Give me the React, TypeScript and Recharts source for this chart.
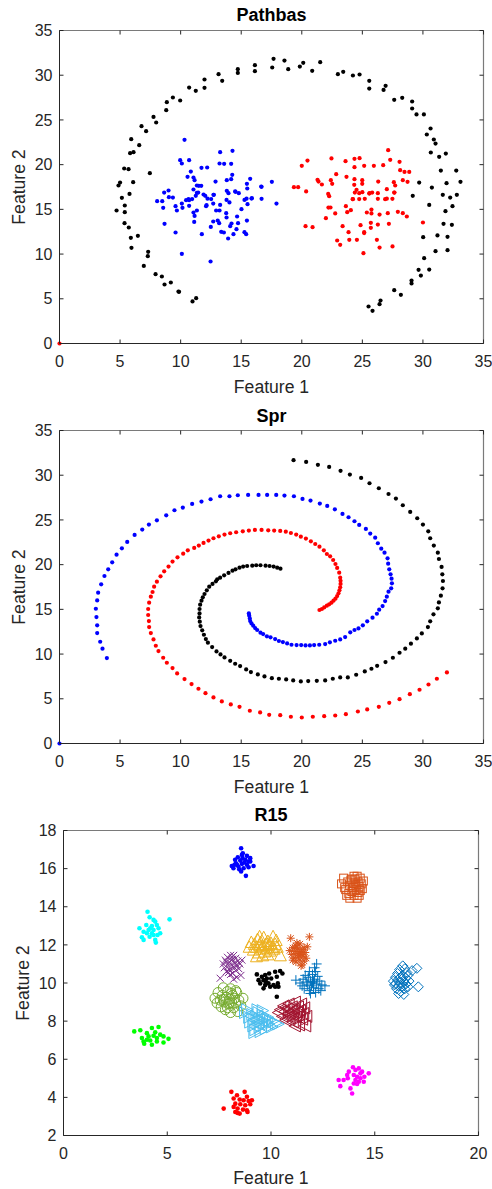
import React from "react";
import { ScatterChart, Scatter, XAxis, YAxis, ReferenceLine } from "recharts";

const AXIS = "#262626";
const FONT = "'Liberation Sans', Arial, sans-serif";

// ---- Pathbas ----
const pathBlack: [number, number][] = [
  [4.87, 17.67], [5.0, 18.0], [5.34, 19.57], [5.7, 19.49], [6.08, 18.04], [5.83, 21.28], [6.11, 21.39],
  [5.92, 22.85], [6.58, 22.18], [6.77, 24.3], [7.15, 23.74], [7.76, 25.34], [7.98, 24.71], [7.46, 19.05],
  [8.81, 26.09], [8.86, 26.98], [9.36, 27.51], [9.96, 27.17], [10.7, 28.62], [11.25, 28.25], [11.97, 28.59],
  [11.97, 29.52], [13.13, 30.12], [13.43, 29.37], [14.72, 30.67], [14.72, 30.26], [16.13, 31.12], [16.13, 30.45],
  [17.67, 31.83], [17.56, 30.86], [18.57, 31.64], [18.88, 30.67], [19.84, 30.97], [20.12, 31.38], [20.86, 30.49],
  [21.52, 31.46], [22.98, 30.12], [23.42, 30.38], [24.22, 29.97], [24.77, 30.08], [25.57, 29.37], [25.57, 28.51],
  [26.75, 28.36], [26.92, 28.81], [27.63, 27.25], [28.29, 27.47], [29.11, 27.06], [29.11, 26.28], [29.47, 25.61],
  [30.08, 25.61], [30.32, 23.37], [30.63, 24.04], [30.9, 22.81], [31.04, 22.36], [30.65, 21.36], [31.34, 20.87],
  [31.89, 21.24], [31.48, 19.34], [32.75, 19.34], [33.1, 18.08], [31.95, 17.93], [29.69, 18.0], [30.74, 17.44],
  [29.16, 16.51], [31.64, 16.62], [32.25, 16.32], [32.8, 16.62], [30.52, 15.5], [31.86, 14.8], [32.44, 15.36],
  [31.7, 13.38], [32.39, 13.27], [30.02, 11.89], [32.03, 11.93], [31.2, 12.08], [30.1, 9.54], [31.04, 10.32],
  [32.03, 10.44], [29.64, 8.24], [30.52, 8.27], [29.83, 7.6], [29.06, 7.04], [29.06, 6.71], [27.63, 5.96],
  [28.18, 5.44], [26.5, 4.81], [26.42, 4.4], [25.51, 4.14], [25.84, 3.65],
  [5.15, 16.29], [5.78, 16.73], [5.39, 15.43], [5.39, 14.69], [4.71, 14.87], [5.37, 13.45], [5.72, 12.97],
  [5.89, 11.82], [5.94, 10.7], [6.47, 12.04], [7.32, 10.25], [7.29, 9.77], [6.96, 8.68], [7.93, 7.75],
  [8.45, 7.49], [8.67, 6.6], [9.19, 6.82], [9.82, 5.81], [9.87, 5.78], [10.98, 4.7], [11.28, 5.07],
];
const pathBlue: [number, number][] = [
  [10.32, 22.77], [9.96, 20.5], [10.1, 20.13], [10.7, 20.5], [10.84, 19.23], [11.72, 19.64], [12.19, 19.68],
  [10.57, 18.64], [11.06, 18.56], [11.15, 18.26], [11.06, 17.22], [11.34, 17.67], [8.64, 16.88], [9.0, 17.11],
  [11.45, 16.88], [13.26, 21.39], [13.21, 20.13], [13.59, 20.09], [14.28, 21.54], [14.17, 20.09], [14.26, 18.86],
  [13.81, 18.26], [14.17, 18.37], [12.88, 18.11], [15.74, 18.41], [15.47, 17.85], [15.5, 17.33], [14.5, 17.0],
  [14.8, 16.81], [13.81, 17.07], [13.95, 16.81], [16.68, 17.52], [17.53, 18.08], [11.89, 16.66], [12.71, 16.62],
  [9.03, 16.36], [9.36, 16.32], [10.65, 16.15], [10.95, 16.15], [12.22, 16.2], [12.52, 16.15], [15.44, 16.2],
  [15.88, 16.25], [16.68, 16.18], [8.06, 15.91], [8.48, 15.91], [8.56, 15.17], [8.67, 13.38], [9.58, 15.36],
  [9.69, 14.87], [9.58, 12.41], [10.1, 15.65], [10.15, 15.17], [10.1, 10.03], [10.45, 16.03], [10.7, 16.03],
  [10.7, 15.39], [11.06, 14.65], [11.15, 14.27], [11.12, 13.6], [11.34, 14.87], [11.25, 16.51], [11.34, 16.85],
  [11.5, 17.63], [11.7, 17.63], [11.75, 12.22], [12.03, 16.51], [12.14, 15.47], [12.1, 15.36], [12.49, 13.04],
  [12.47, 9.17], [12.74, 16.62], [12.69, 15.65], [12.69, 13.64], [12.93, 14.87], [13.06, 13.75], [13.18, 13.45],
  [13.21, 14.87], [13.26, 15.5], [13.35, 12.49], [13.57, 12.41], [13.79, 16.06], [13.76, 14.57], [13.79, 14.09],
  [13.92, 11.74], [14.09, 13.12], [14.2, 13.42], [14.03, 15.77], [14.53, 16.96], [14.36, 12.22], [14.61, 12.78],
  [14.66, 14.2], [14.74, 13.45], [15.02, 15.02], [15.27, 12.45], [15.41, 12.22], [15.27, 16.06], [15.52, 15.58],
  [15.47, 13.75], [15.85, 16.21], [16.65, 17.55], [17.91, 15.65],
];
const pathRed: [number, number][] = [
  [0, 0],
  [20.0, 19.87], [20.47, 20.46], [22.45, 20.69], [23.61, 20.39], [24.35, 20.65], [24.35, 19.72], [24.77, 20.72],
  [25.15, 19.87], [25.95, 19.87], [26.72, 19.94], [27.13, 21.62], [27.3, 20.54], [28.07, 20.31], [28.12, 19.38],
  [28.48, 19.19], [28.87, 19.19], [22.84, 18.93], [23.69, 18.64], [21.3, 18.3], [21.38, 18.11], [21.66, 17.78],
  [22.4, 18.26], [22.51, 17.85], [19.35, 17.48], [19.7, 17.48], [20.36, 17.0], [22.18, 16.73], [22.26, 16.47],
  [24.35, 18.37], [24.33, 17.74], [24.99, 18.26], [24.99, 17.85], [24.52, 17.18], [24.38, 16.88], [24.74, 16.81],
  [25.0, 16.92], [25.59, 16.81], [26.28, 16.81], [26.31, 18.11], [27.02, 17.26], [27.6, 18.04], [27.71, 17.67],
  [27.65, 16.88], [28.34, 18.26], [24.2, 16.15], [24.74, 16.15], [27.02, 16.2], [27.48, 16.18],
  [20.31, 13.12], [20.89, 13.01], [21.99, 14.01], [22.37, 15.21], [22.76, 14.54], [22.92, 11.52],
  [23.17, 11.03], [23.37, 13.12], [23.64, 15.36], [23.75, 14.69], [23.86, 12.45], [23.92, 11.59], [24.05, 14.91],
  [24.22, 16.14], [24.55, 11.59], [24.85, 13.23], [25.15, 12.45], [25.09, 10.1], [25.2, 16.18], [25.37, 14.65],
  [25.57, 16.77], [25.81, 16.88], [25.7, 13.49], [25.7, 12.93], [25.75, 14.98], [25.75, 14.54], [26.2, 11.59],
  [26.28, 13.3], [26.42, 14.42], [26.42, 10.73], [26.28, 16.18], [26.88, 16.14], [27.1, 14.57], [27.19, 13.38],
  [27.49, 10.85], [27.63, 16.88], [27.93, 14.72], [28.34, 14.57], [28.67, 14.2], [28.73, 18.08], [30.0, 13.53],
  [25.15, 12.35], [22.2, 15.2],
];

// ---- Spr ----
const sprBlack: [number, number][] = [
  [19.32, 31.68], [20.36, 31.49], [21.33, 31.16], [22.26, 30.93], [23.2, 30.49], [23.97, 30.07], [24.9, 29.7],
  [25.59, 29.1], [26.36, 28.54], [27.16, 27.9], [27.77, 27.39], [28.34, 26.64], [28.95, 25.9], [29.53, 25.19],
  [30.0, 24.48], [30.44, 23.73], [30.6, 22.95], [30.9, 22.13], [31.23, 21.34], [31.32, 20.63], [31.54, 19.74],
  [31.6, 18.92], [31.65, 18.17], [31.62, 17.35], [31.48, 16.53], [31.32, 15.78], [31.23, 15.11], [30.87, 14.44],
  [30.6, 13.66], [30.41, 13.02], [29.91, 12.31], [29.5, 11.75], [29.01, 11.16], [28.54, 10.6], [28.07, 10.15],
  [27.52, 9.59], [26.91, 9.1], [26.22, 8.69], [25.75, 8.36], [25.2, 8.06], [24.49, 7.69], [23.8, 7.39],
  [23.17, 7.39], [22.56, 7.24], [21.93, 7.05], [21.24, 7.01], [20.53, 6.98], [19.92, 6.94], [19.29, 7.05],
  [18.71, 7.16], [18.11, 7.24], [17.53, 7.31], [16.92, 7.5], [16.37, 7.72], [15.8, 7.99], [15.41, 8.28],
  [14.91, 8.66], [14.5, 8.92], [14.09, 9.25], [13.62, 9.63], [13.29, 9.96], [12.96, 10.3], [12.6, 10.78],
  [12.25, 11.27], [12.08, 11.68], [11.92, 12.16], [11.78, 12.65], [11.64, 13.13], [11.58, 13.62], [11.53, 14.1],
  [11.56, 14.55], [11.56, 15.04], [11.61, 15.52], [11.72, 15.97], [11.83, 16.34], [11.97, 16.72], [12.16, 17.13],
  [12.36, 17.54], [12.63, 17.84], [12.91, 18.13], [13.02, 18.36], [13.26, 18.54], [13.59, 18.81], [13.95, 19.07],
  [14.28, 19.33], [14.53, 19.48], [14.86, 19.66], [15.16, 19.78], [15.49, 19.85], [15.91, 19.89], [16.24, 19.93],
  [16.59, 19.93], [17.01, 19.89], [17.34, 19.85], [17.67, 19.78], [17.97, 19.66], [18.24, 19.55],
];
const sprBlue: [number, number][] = [
  [0, 0],
  [3.91, 9.55], [3.55, 10.6], [3.36, 11.38], [3.11, 12.35], [3.11, 13.21], [3.05, 14.14], [3.0, 15.07],
  [3.11, 16.0], [3.19, 16.87], [3.44, 17.8], [3.71, 18.73], [4.02, 19.48], [4.35, 20.26], [4.71, 21.12],
  [5.15, 21.83], [5.59, 22.54], [6.2, 23.32], [6.83, 23.92], [7.38, 24.48], [8.04, 24.96], [8.81, 25.52],
  [9.49, 26.08], [10.18, 26.38], [10.95, 26.79], [11.72, 27.05], [12.47, 27.31], [13.26, 27.65], [14.03, 27.65],
  [14.72, 27.76], [15.57, 27.8], [16.43, 27.8], [17.14, 27.8], [17.89, 27.8], [18.57, 27.72], [19.35, 27.65],
  [20.06, 27.35], [20.72, 27.16], [21.49, 26.83], [22.1, 26.57], [22.73, 26.19], [23.36, 25.67], [23.86, 25.3],
  [24.35, 24.85], [24.74, 24.44], [25.29, 23.99], [25.65, 23.47], [26.06, 23.02], [26.28, 22.39], [26.56, 21.79],
  [26.83, 21.34], [27.08, 20.71], [27.13, 20.11], [27.22, 19.48], [27.33, 18.92], [27.41, 18.43], [27.44, 17.91],
  [27.38, 17.35], [27.16, 16.98], [27.02, 16.42], [26.88, 15.93], [26.67, 15.37], [26.39, 14.96], [26.2, 14.51],
  [25.84, 14.07], [25.4, 13.66], [25.04, 13.21], [24.68, 12.87], [24.35, 12.69], [24.0, 12.43], [23.58, 11.9],
  [23.17, 11.64], [22.76, 11.49], [22.32, 11.31], [21.93, 11.12], [21.44, 11.04], [21.02, 11.01], [20.67, 10.97],
  [20.31, 10.97], [19.95, 11.01], [19.57, 11.01], [19.15, 11.04], [18.79, 11.19], [18.44, 11.34], [18.11, 11.46],
  [17.8, 11.68], [17.42, 11.87], [17.12, 11.98], [16.81, 12.24], [16.59, 12.39], [16.32, 12.69], [16.15, 12.91],
  [15.99, 13.17], [15.85, 13.43], [15.74, 13.69], [15.71, 13.99], [15.66, 14.29], [15.63, 14.55],
];
const sprRed: [number, number][] = [
  [21.46, 14.93], [21.66, 15.04], [21.85, 15.22], [22.07, 15.41], [22.26, 15.56], [22.45, 15.75], [22.62, 15.97],
  [22.78, 16.19], [22.92, 16.49], [23.03, 16.79], [23.11, 17.13], [23.17, 17.46], [23.2, 17.84], [23.2, 18.2],
  [23.17, 18.54], [23.09, 19.1], [22.92, 19.63], [22.78, 20.07], [22.59, 20.52], [22.34, 20.93], [22.07, 21.19],
  [21.82, 21.6], [21.46, 22.01], [21.11, 22.31], [20.75, 22.61], [20.34, 22.91], [19.92, 23.13], [19.54, 23.36],
  [19.1, 23.54], [18.68, 23.69], [18.22, 23.77], [17.72, 23.81], [17.23, 23.84], [16.68, 23.88], [16.13, 23.88],
  [15.63, 23.81], [15.13, 23.73], [14.58, 23.62], [14.09, 23.51], [13.62, 23.36], [13.15, 23.17], [12.71, 22.95],
  [12.3, 22.69], [11.89, 22.43], [11.5, 22.13], [11.12, 21.87], [10.59, 21.6], [10.21, 21.23], [9.74, 20.82],
  [9.33, 20.34], [9.0, 19.78], [8.64, 19.25], [8.34, 18.69], [8.04, 18.1], [7.81, 17.54], [7.68, 16.94],
  [7.54, 16.42], [7.4, 15.75], [7.32, 15.04], [7.32, 14.37], [7.38, 13.69], [7.4, 13.02], [7.54, 12.35],
  [7.76, 11.64], [7.95, 10.93], [8.17, 10.34], [8.56, 9.59], [8.86, 9.03], [9.33, 8.43], [9.71, 7.84],
  [10.32, 7.2], [10.9, 6.64], [11.47, 6.12], [12.05, 5.63], [12.71, 5.15], [13.4, 4.7], [14.14, 4.37],
  [14.86, 4.1], [15.71, 3.66], [16.56, 3.47], [17.31, 3.21], [18.22, 3.17], [19.1, 2.99], [20.0, 2.91],
  [20.91, 2.99], [21.85, 3.06], [22.76, 3.13], [23.64, 3.28], [24.63, 3.58], [25.4, 3.81], [26.36, 4.1],
  [27.22, 4.55], [28.07, 4.96], [28.92, 5.52], [29.72, 6.01], [30.46, 6.6], [31.15, 7.24], [31.98, 7.95],
];

// ---- R15 ----
const r15Blue: [number, number][] = [
  [8.56, 17.07], [8.64, 16.81], [8.6, 16.72], [8.4, 16.6], [8.84, 16.67], [9.0, 16.55], [8.27, 16.46], [8.52, 16.42],
  [8.76, 16.46], [8.92, 16.37], [8.11, 16.14], [8.36, 16.2], [8.6, 16.25], [8.84, 16.2], [9.16, 16.14], [8.19, 16.02],
  [8.47, 15.97], [8.68, 16.02], [8.92, 16.07], [8.56, 15.85], [8.79, 15.62], [8.31, 16.28], [8.72, 16.32],
  [8.43, 16.11], [9.0, 16.37], [8.24, 16.2], [8.63, 16.55],
];
const r15Cyan: [number, number][] = [
  [4.05, 13.74], [4.15, 13.45], [4.34, 13.31], [4.42, 13.22], [5.11, 13.34], [3.99, 13.04], [4.26, 12.99], [4.5, 13.04],
  [3.66, 12.87], [3.86, 12.69], [4.1, 12.78], [4.26, 12.61], [4.58, 12.87], [4.02, 12.61], [4.34, 12.52], [4.53, 12.52],
  [4.66, 12.61], [3.78, 12.4], [3.86, 12.26], [4.42, 12.26], [4.45, 12.12], [4.18, 12.87], [4.34, 12.78], [4.15, 12.43],
];
const r15Green: [number, number][] = [
  [3.41, 7.46], [3.7, 7.52], [4.26, 7.64], [4.58, 7.69], [4.02, 7.37], [3.78, 7.11], [4.1, 7.2], [4.34, 7.23],
  [4.5, 7.11], [4.82, 7.2], [5.06, 7.07], [4.82, 6.88], [3.89, 6.81], [4.26, 6.76], [4.5, 6.93], [4.02, 7.02],
  [4.66, 7.29], [4.42, 7.41], [4.18, 6.98], [3.86, 6.93],
];
const r15Red: [number, number][] = [
  [8.09, 4.29], [8.73, 4.29], [8.36, 4.11], [8.84, 4.03], [8.2, 3.94], [8.49, 3.89], [8.68, 3.85], [8.92, 3.81],
  [9.08, 3.85], [7.72, 3.41], [8.28, 3.67], [8.52, 3.64], [8.76, 3.59], [9.0, 3.64], [8.2, 3.5], [8.39, 3.41],
  [8.65, 3.36], [8.84, 3.32], [8.28, 3.23], [8.49, 3.15], [8.87, 3.23], [8.39, 3.18],
];
const r15Magenta: [number, number][] = [
  [13.26, 4.91], [13.34, 4.59], [13.5, 4.91], [13.67, 5.17], [13.7, 5.0], [13.95, 5.58], [14.07, 5.44], [14.23, 5.52],
  [13.99, 5.17], [14.15, 5.08], [14.31, 5.26], [14.39, 5.35], [14.71, 5.26], [13.83, 4.47], [13.91, 4.2], [14.07, 4.91],
  [14.23, 4.82], [14.47, 4.82], [14.31, 5.0], [13.99, 4.73], [14.15, 4.7], [13.75, 5.35], [14.5, 5.08],
];
const r15Black: [number, number][] = [
  [9.32, 10.45], [9.56, 10.33], [9.72, 10.42], [9.91, 10.5], [10.2, 10.59], [10.44, 10.63], [10.55, 10.5], [9.4, 10.15],
  [9.64, 10.15], [9.8, 10.24], [10.01, 10.24], [10.28, 10.33], [9.48, 9.98], [9.72, 9.89], [9.88, 9.98], [10.12, 9.89],
  [10.33, 9.98], [10.2, 9.8], [10.36, 9.8], [9.64, 9.72], [9.96, 9.8], [10.28, 9.28], [9.75, 10.07],
];
const r15Squares: [number, number][] = [
  [13.4, 15.2], [13.5, 15.5], [13.6, 14.9], [13.7, 15.3], [13.75, 14.7], [13.8, 15.1], [13.85, 15.4], [13.9, 14.8],
  [13.95, 15.0], [14.0, 15.25], [14.0, 14.6], [14.05, 15.45], [14.1, 14.9], [14.1, 15.1], [14.15, 14.45], [14.2, 15.3],
  [14.2, 14.75], [14.25, 15.05], [14.3, 15.5], [14.3, 14.85], [14.35, 15.2], [14.4, 14.95], [14.45, 15.35],
  [13.65, 14.6], [13.55, 15.0], [14.0, 15.6], [14.15, 15.6], [13.9, 15.45], [14.25, 14.6], [13.8, 14.45],
];
const r15TriUp: [number, number][] = [
  [8.95, 11.85], [9.05, 12.1], [9.15, 11.7], [9.2, 12.0], [9.3, 11.85], [9.35, 12.25], [9.4, 11.55], [9.45, 11.95],
  [9.5, 12.1], [9.55, 11.75], [9.6, 11.9], [9.65, 12.35], [9.7, 11.6], [9.75, 12.0], [9.8, 11.8], [9.85, 12.15],
  [9.9, 11.95], [9.95, 11.65], [10.0, 12.05], [10.05, 11.85], [10.1, 12.4], [10.15, 11.75], [10.2, 12.0],
  [10.3, 11.85], [10.45, 11.4], [9.3, 11.35], [9.6, 11.4], [9.45, 12.4], [9.85, 11.45], [10.25, 12.2],
];
const r15Star: [number, number][] = [
  [10.95, 12.35], [11.85, 12.42], [10.9, 11.7], [11.0, 11.5], [11.05, 11.85], [11.1, 11.3], [11.15, 11.65],
  [11.2, 11.95], [11.2, 11.1], [11.25, 11.55], [11.3, 11.8], [11.3, 11.35], [11.35, 11.65], [11.4, 12.05],
  [11.4, 11.2], [11.45, 11.5], [11.5, 11.75], [11.5, 10.95], [11.55, 11.4], [11.6, 11.85], [11.6, 11.15],
  [11.65, 11.6], [11.7, 11.3], [11.75, 11.9], [11.25, 12.1], [11.05, 11.2], [11.45, 10.9], [11.35, 11.45],
  [11.15, 11.85], [11.55, 11.6],
];
const r15Cross: [number, number][] = [
  [7.55, 10.25], [7.7, 11.0], [7.75, 10.8], [7.8, 11.2], [7.85, 10.6], [7.9, 11.35], [7.95, 10.9], [8.0, 11.1],
  [8.0, 10.7], [8.05, 11.45], [8.1, 10.95], [8.15, 10.5], [8.15, 11.25], [8.2, 10.85], [8.25, 11.05], [8.3, 10.65],
  [8.3, 11.3], [8.35, 10.95], [8.4, 11.15], [8.45, 10.75], [8.5, 11.0], [8.55, 10.4], [8.6, 11.2], [7.85, 11.1],
  [8.05, 10.45], [8.2, 11.45], [7.95, 10.55], [8.35, 10.3], [8.1, 11.2], [8.25, 10.8], [8.2, 10.2],
];
const r15Plus: [number, number][] = [
  [11.2, 10.15], [11.4, 10.0], [11.5, 9.85], [11.55, 10.2], [11.6, 9.7], [11.7, 10.05], [11.75, 9.9], [11.8, 10.3],
  [11.85, 9.6], [11.9, 10.1], [11.95, 9.85], [12.0, 10.0], [12.0, 10.45], [12.05, 9.75], [12.1, 10.2], [12.15, 9.5],
  [12.15, 10.6], [12.2, 9.95], [12.25, 10.35], [12.3, 9.7], [12.35, 10.1], [12.45, 9.9], [12.6, 9.85], [12.2, 11.0],
  [12.1, 10.8], [11.9, 9.45], [11.65, 10.4], [12.4, 9.6], [11.85, 10.6], [12.05, 10.05],
];
const r15Diamond: [number, number][] = [
  [15.9, 10.1], [15.95, 9.9], [16.0, 10.3], [16.05, 9.7], [16.1, 10.15], [16.1, 10.5], [16.15, 9.85], [16.2, 10.0],
  [16.2, 10.7], [16.25, 9.55], [16.3, 10.2], [16.3, 9.8], [16.35, 10.4], [16.35, 10.9], [16.4, 9.4], [16.4, 10.05],
  [16.45, 9.7], [16.5, 10.25], [16.5, 9.95], [16.55, 10.55], [16.6, 9.8], [16.65, 10.1], [17.03, 10.77], [17.1, 9.8],
  [16.8, 10.65], [16.25, 10.3], [16.0, 9.95], [16.15, 9.45], [16.45, 10.75], [16.6, 10.4],
];
const r15Circle: [number, number][] = [
  [7.3, 9.2], [7.4, 8.95], [7.45, 9.5], [7.55, 9.1], [7.6, 8.75], [7.65, 9.35], [7.7, 9.75], [7.75, 9.0], [7.8, 8.6],
  [7.85, 9.25], [7.9, 9.55], [7.95, 8.9], [8.0, 9.15], [8.05, 8.45], [8.05, 9.7], [8.1, 9.0], [8.15, 9.35], [8.2, 8.7],
  [8.25, 9.2], [8.3, 8.95], [8.35, 9.5], [8.4, 8.5], [8.45, 9.1], [8.55, 8.8], [8.65, 9.2], [7.9, 8.7], [8.1, 9.45],
  [7.7, 9.15], [8.3, 9.6], [8.0, 8.95],
];
const r15TriRight: [number, number][] = [
  [8.7, 8.45], [8.8, 8.6], [8.9, 8.2], [8.95, 7.95], [9.05, 8.35], [9.1, 7.75], [9.15, 8.1], [9.2, 7.55], [9.25, 8.25],
  [9.3, 7.9], [9.35, 8.45], [9.4, 7.7], [9.4, 8.1], [9.45, 7.45], [9.5, 8.0], [9.55, 8.3], [9.6, 7.8], [9.65, 8.15],
  [9.7, 7.6], [9.75, 7.95], [9.8, 8.2], [9.85, 7.85], [9.9, 8.05], [10.0, 7.7], [10.05, 8.0], [10.2, 7.9],
  [10.3, 7.85], [9.3, 8.6], [9.55, 8.55], [9.15, 7.4],
];
const r15TriLeft: [number, number][] = [
  [10.4, 8.45], [10.5, 8.6], [10.6, 8.25], [10.65, 8.8], [10.7, 8.5], [10.75, 8.05], [10.8, 8.65], [10.85, 8.35],
  [10.9, 8.9], [10.95, 8.15], [11.0, 8.5], [11.05, 8.75], [11.1, 7.95], [11.1, 8.35], [11.15, 8.6], [11.2, 9.0],
  [11.25, 8.2], [11.3, 8.45], [11.35, 8.75], [11.4, 7.8], [11.4, 8.3], [11.45, 8.55], [11.5, 8.9], [11.55, 8.1],
  [11.6, 8.4], [11.65, 8.7], [11.7, 7.75], [11.75, 8.25], [11.2, 7.75], [10.9, 8.25],
];

const ticks35 = [0, 5, 10, 15, 20, 25, 30, 35];
const ticksX20 = [0, 5, 10, 15, 20];
const ticksY18 = [2, 4, 6, 8, 10, 12, 14, 16, 18];

const pts = (a: [number, number][]) => a.map(([x, y]) => ({ x, y }));

type Kind = "dot" | "square" | "triUp" | "triRight" | "triLeft" | "star" | "cross" | "plus" | "diamond" | "circle";

function marker(kind: Kind, color: string, r = 2.1) {
  return (p: any) => {
    const { cx, cy } = p;
    const s = { stroke: color, strokeWidth: 1, fill: "none" };
    switch (kind) {
      case "dot":
        return <circle cx={cx} cy={cy} r={r} fill={color} />;
      case "square":
        return <rect x={cx - 4} y={cy - 4} width={8} height={8} {...s} />;
      case "triUp":
        return <polygon points={`${cx},${cy - 7} ${cx - 6},${cy + 4.5} ${cx + 6},${cy + 4.5}`} {...s} />;
      case "triRight":
        return <polygon points={`${cx + 7},${cy} ${cx - 4.5},${cy - 6} ${cx - 4.5},${cy + 6}`} {...s} />;
      case "triLeft":
        return <polygon points={`${cx - 7},${cy} ${cx + 4.5},${cy - 6} ${cx + 4.5},${cy + 6}`} {...s} />;
      case "diamond":
        return <polygon points={`${cx},${cy - 5} ${cx + 5},${cy} ${cx},${cy + 5} ${cx - 5},${cy}`} {...s} />;
      case "circle":
        return <circle cx={cx} cy={cy} r={5} {...s} />;
      case "plus":
        return <path d={`M${cx - 5},${cy}H${cx + 5}M${cx},${cy - 5}V${cy + 5}`} {...s} />;
      case "cross":
        return <path d={`M${cx - 3.5},${cy - 3.5}L${cx + 3.5},${cy + 3.5}M${cx - 3.5},${cy + 3.5}L${cx + 3.5},${cy - 3.5}`} {...s} />;
      case "star":
        return (
          <path
            d={`M${cx - 4},${cy}H${cx + 4}M${cx},${cy - 4}V${cy + 4}M${cx - 3},${cy - 3}L${cx + 3},${cy + 3}M${cx - 3},${cy + 3}L${cx + 3},${cy - 3}`}
            {...s}
          />
        );
    }
    return <g />;
  };
}

function xTick(top: number) {
  return (p: any) => (
    <g>
      <line x1={p.x} y1={p.y} x2={p.x} y2={p.y - 4} stroke={AXIS} />
      <line x1={p.x} y1={top} x2={p.x} y2={top + 4} stroke={AXIS} />
      <text x={p.x} y={p.y + 23} textAnchor="middle" fontSize={16} fill={AXIS} fontFamily={FONT}>
        {p.payload.value}
      </text>
    </g>
  );
}

function yTick(right: number) {
  return (p: any) => (
    <g>
      <line x1={p.x} y1={p.y} x2={p.x + 4} y2={p.y} stroke={AXIS} />
      <line x1={right} y1={p.y} x2={right - 4} y2={p.y} stroke={AXIS} />
      <text x={p.x - 7} y={p.y + 5.7} textAnchor="end" fontSize={16} fill={AXIS} fontFamily={FONT}>
        {p.payload.value}
      </text>
    </g>
  );
}

type Series = { data: [number, number][]; kind: Kind; color: string; r?: number };

function Panel({
  top, height, left, right, plotTop, plotBottom, xDomain, yDomain, xTicks, yTicks, series,
}: {
  top: number; height: number; left: number; right: number; plotTop: number; plotBottom: number;
  xDomain: [number, number]; yDomain: [number, number]; xTicks: number[]; yTicks: number[]; series: Series[];
}) {
  const xAxisH = 50;
  return (
    <div style={{ position: "absolute", left: 0, top }}>
      <ScatterChart
        width={492}
        height={height}
        margin={{ top: plotTop, right: 492 - right, bottom: height - plotBottom - xAxisH, left: 0 }}
      >
        <XAxis
          type="number"
          dataKey="x"
          domain={xDomain}
          ticks={xTicks}
          interval={0}
          height={xAxisH}
          tickSize={0}
          tickMargin={0}
          tickLine={false}
          axisLine={{ stroke: AXIS }}
          tick={xTick(plotTop)}
        />
        <YAxis
          type="number"
          dataKey="y"
          domain={yDomain}
          ticks={yTicks}
          interval={0}
          width={left}
          tickSize={0}
          tickMargin={0}
          tickLine={false}
          axisLine={{ stroke: AXIS }}
          tick={yTick(right)}
        />
        <ReferenceLine y={yDomain[1]} stroke="#7a7a7a" strokeWidth={1.2} />
        <ReferenceLine x={xDomain[1]} stroke="#7a7a7a" strokeWidth={1.2} />
        {series.map((s, i) => (
          <Scatter
            key={i}
            data={pts(s.data)}
            isAnimationActive={false}
            shape={marker(s.kind, s.color, s.r)}
          />
        ))}
      </ScatterChart>
    </div>
  );
}

function Texts() {
  const t = { fontFamily: FONT, fill: AXIS } as const;
  const titles = [
    { x: 271.5, y: 21, s: "Pathbas" },
    { x: 271.5, y: 421.5, s: "Spr" },
    { x: 271, y: 821, s: "R15" },
  ];
  const xl = [
    { x: 271.5, y: 393 },
    { x: 271.5, y: 793 },
    { x: 271, y: 1184 },
  ];
  const yl = [
    { x: 25, y: 187 },
    { x: 25, y: 587 },
    { x: 29, y: 983 },
  ];
  return (
    <svg width={492} height={1189} style={{ position: "absolute", left: 0, top: 0, pointerEvents: "none" }}>
      {titles.map((d, i) => (
        <text key={"t" + i} x={d.x} y={d.y} textAnchor="middle" fontSize={18} fontWeight="bold" {...t} fill="#000">
          {d.s}
        </text>
      ))}
      {xl.map((d, i) => (
        <text key={"x" + i} x={d.x} y={d.y} textAnchor="middle" fontSize={17.6} {...t}>
          Feature 1
        </text>
      ))}
      {yl.map((d, i) => (
        <text key={"y" + i} x={d.x} y={d.y} textAnchor="middle" fontSize={17.6} transform={`rotate(-90 ${d.x} ${d.y})`} {...t}>
          Feature 2
        </text>
      ))}
    </svg>
  );
}

export default function App() {
  return (
    <div style={{ position: "absolute", left: 0, top: 0, width: 492, height: 1189, background: "#fff" }}>
      <Panel
        top={0} height={400} left={59.5} right={483.5} plotTop={30.5} plotBottom={343.5}
        xDomain={[0, 35]} yDomain={[0, 35]} xTicks={ticks35} yTicks={ticks35}
        series={[
          { data: pathBlack, kind: "dot", color: "#000000" },
          { data: pathBlue, kind: "dot", color: "#0000ff" },
          { data: pathRed, kind: "dot", color: "#ff0000" },
        ]}
      />
      <Panel
        top={400} height={400} left={59.5} right={483.5} plotTop={30.5} plotBottom={343.5}
        xDomain={[0, 35]} yDomain={[0, 35]} xTicks={ticks35} yTicks={ticks35}
        series={[
          { data: sprBlack, kind: "dot", color: "#000000" },
          { data: sprRed, kind: "dot", color: "#ff0000" },
          { data: sprBlue, kind: "dot", color: "#0000ff" },
        ]}
      />
      <Panel
        top={800} height={389} left={63.5} right={478.5} plotTop={30.5} plotBottom={335.5}
        xDomain={[0, 20]} yDomain={[2, 18]} xTicks={ticksX20} yTicks={ticksY18}
        series={[
          { data: r15Blue, kind: "dot", color: "#0000ff", r: 2.3 },
          { data: r15Cyan, kind: "dot", color: "#00ffff", r: 2.3 },
          { data: r15Green, kind: "dot", color: "#00ff00", r: 2.3 },
          { data: r15Red, kind: "dot", color: "#ff0000", r: 2.3 },
          { data: r15Magenta, kind: "dot", color: "#ff00ff", r: 2.3 },
          { data: r15Black, kind: "dot", color: "#000000", r: 2.3 },
          { data: r15Squares, kind: "square", color: "#D95319" },
          { data: r15TriUp, kind: "triUp", color: "#EDB120" },
          { data: r15Star, kind: "star", color: "#D95319" },
          { data: r15Cross, kind: "cross", color: "#7E2F8E" },
          { data: r15Plus, kind: "plus", color: "#0072BD" },
          { data: r15Diamond, kind: "diamond", color: "#0072BD" },
          { data: r15Circle, kind: "circle", color: "#77AC30" },
          { data: r15TriRight, kind: "triRight", color: "#4DBEEE" },
          { data: r15TriLeft, kind: "triLeft", color: "#A2142F" },
        ]}
      />
      <Texts />
    </div>
  );
}
